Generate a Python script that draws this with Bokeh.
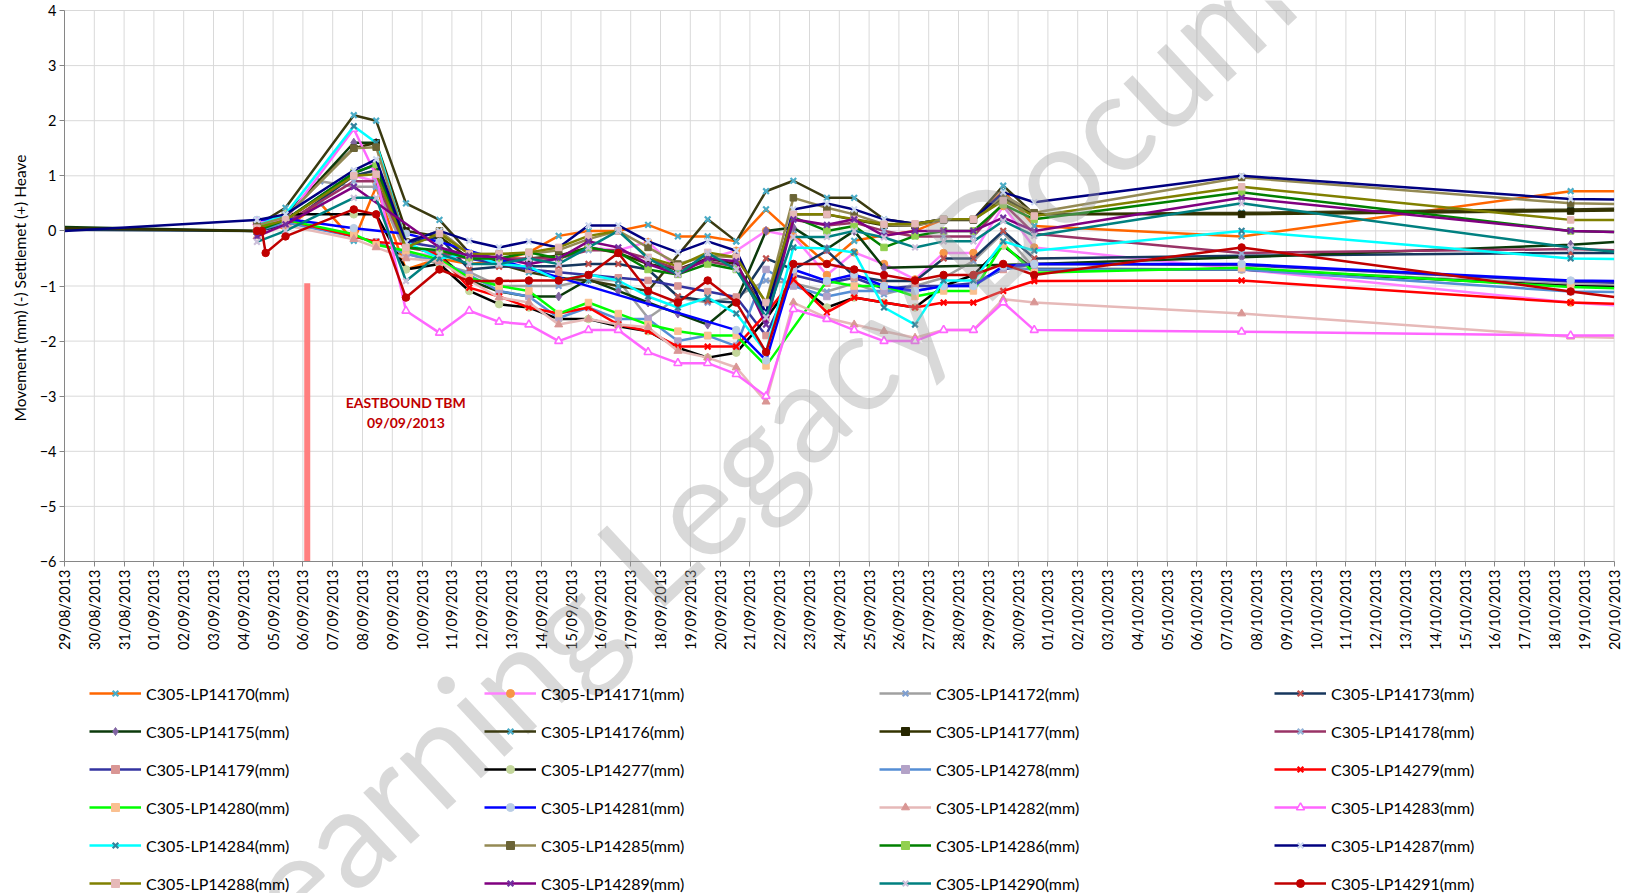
import pandas as pd
from math import pi
from bokeh.plotting import figure
from bokeh.models import (Range1d, FixedTicker, DatetimeTickFormatter, Legend,
                          LegendItem, Label)
from bokeh.core.properties import value
from bokeh.embed import file_html
from bokeh.resources import INLINE

FONT = "Lato"
N = None

# measurement times
times = ["2013-08-29 00:00", "2013-09-04 11:00", "2013-09-04 15:00", "2013-09-04 18:00",
         "2013-09-05 10:00", "2013-09-06 14:00", "2013-09-07 17:00", "2013-09-08 11:00",
         "2013-09-09 11:00", "2013-09-10 14:00", "2013-09-11 14:00", "2013-09-12 14:00",
         "2013-09-13 14:00", "2013-09-14 14:00", "2013-09-15 14:00", "2013-09-16 14:00",
         "2013-09-17 14:00", "2013-09-18 14:00", "2013-09-19 14:00", "2013-09-20 13:00",
         "2013-09-21 13:00", "2013-09-22 11:00", "2013-09-23 14:00", "2013-09-24 12:00",
         "2013-09-25 12:00", "2013-09-26 13:00", "2013-09-27 12:00", "2013-09-28 12:00",
         "2013-09-29 12:00", "2013-09-30 13:00", "2013-10-07 12:00", "2013-10-18 13:00",
         "2013-10-20 00:00"]

lp14170 = [N, 0.1, N, N, 0.05, 0.5, -0.18, 0.8, -0.7, -0.5, -0.6, -0.55, -0.39, -0.09, 0.0, 0.0, 0.11, -0.1, -0.1, -0.19, 0.39, -0.06, -0.6, -0.18, -0.08, 0.0, 0.21, 0.21, 0.73, 0.09, -0.1, 0.72, 0.72]
lp14171 = [N, 0.15, 0.1, N, 0.1, N, 1.0, 0.9, -0.4, -0.45, -0.5, -0.5, -0.6, -0.5, -0.3, -0.35, -0.2, -0.7, -0.5, -0.36, 0.0, -0.1, -0.8, -0.39, -0.6, -0.88, -0.4, -0.4, 0.45, -0.3, -0.7, -1.3, -1.35]
lp14172 = [N, 0.2, N, N, 0.25, 0.9, 0.8, 0.8, -0.4, -0.6, -0.75, -1.0, -1.0, -1.0, -0.88, -0.9, -1.58, -1.21, -1.3, -1.2, -0.9, -0.95, -1.1, -0.95, -1.15, -1.0, -0.85, -0.55, -0.03, -0.68, -0.7, -0.97, -0.99]
lp14173 = [0.02, 0.0, N, N, 0.1, N, 1.0, 1.1, -0.2, -0.12, -0.7, -0.65, -0.64, -0.64, -0.6, -0.6, -0.7, -1.19, -1.27, -1.3, -0.5, -0.7, -0.36, -0.82, -0.91, -0.91, -0.5, -0.5, 0.0, -0.5, -0.45, -0.4, -0.4]
lp14175 = [0.07, 0.0, N, N, 0.25, N, 1.6, 1.6, -0.25, -0.45, -0.9, -1.1, -1.19, -1.19, -0.88, -1.09, -1.3, -1.5, -1.7, -1.27, 0.0, 0.06, -0.33, 0.0, -0.67, N, N, N, N, -0.6, -0.48, -0.25, -0.2]
lp14176 = [N, 0.1, N, N, 0.42, N, 2.1, 2.0, 0.5, 0.2, -0.4, -0.6, -0.75, -0.85, -0.9, -1.0, -1.09, N, 0.21, -0.19, 0.72, 0.91, 0.6, 0.6, 0.21, 0.13, 0.21, 0.21, 0.82, 0.3, 0.33, 0.39, 0.4]
lp14177 = [0.05, 0.0, N, N, 0.3, N, 1.5, 1.6, 0.0, -0.1, -0.5, -0.55, -0.5, -0.45, -0.3, -0.4, -0.6, -0.7, -0.5, -0.6, -1.5, 0.3, 0.3, 0.2, 0.1, 0.1, 0.2, 0.2, 0.6, 0.3, 0.3, 0.36, 0.37]
lp14178 = [N, 0.05, N, N, 0.15, N, 0.9, 0.9, -0.3, -0.4, -0.5, -0.5, -0.5, -0.5, -0.35, -0.35, -0.5, -0.7, -0.55, -0.65, -1.5, 0.2, 0.1, 0.15, 0.0, -0.1, -0.1, -0.1, 0.5, -0.05, -0.4, -0.33, -0.35]
lp14179 = [N, 0.1, N, N, 0.2, N, 1.05, 1.2, -0.2, -0.3, -0.5, -0.6, -0.7, -0.75, -0.8, -0.85, -0.9, -1.0, -1.1, -1.2, -1.9, -0.8, -0.95, -0.85, -1.05, -1.0, -1.0, -0.95, -0.7, -0.6, -0.62, -0.92, -0.94]
lp14277 = [N, 0.0, N, N, 0.3, N, 0.3, 0.3, -0.7, -0.6, -1.09, -1.33, -1.39, -1.6, -1.6, -1.73, -1.82, -2.12, -2.3, -2.21, -1.6, -0.9, -1.39, -1.21, -1.3, -1.39, -1.0, -0.8, -0.27, -0.7, -0.7, -1.0, -1.02]
lp14278 = [N, 0.0, N, N, 0.15, N, -0.1, -0.2, -0.42, -0.55, -0.8, -1.09, -1.19, -1.58, -1.39, -1.6, -1.6, -2.0, -1.9, -2.09, -0.7, -1.0, -1.19, -1.09, -1.09, -1.09, -1.0, -1.0, -0.67, -0.7, -0.7, -1.1, -1.11]
lp14279 = [N, 0.05, N, N, 0.2, N, -0.1, -0.2, -0.24, -0.45, -1.03, -1.19, -1.39, -1.5, -1.39, -1.7, -1.82, -2.1, -2.1, -2.1, -1.5, -0.88, -1.48, -1.21, -1.3, -1.39, -1.3, -1.3, -1.09, -0.91, -0.9, -1.3, -1.32]
lp14280 = [N, 0.1, N, N, 0.2, N, -0.06, -0.25, -0.36, -0.52, -0.85, -1.0, -1.09, -1.5, -1.3, -1.5, -1.7, -1.82, -1.9, -1.9, -2.45, N, -0.91, -1.0, -1.0, -1.19, -1.09, -1.09, -0.24, -0.76, -0.67, -1.02, -1.04]
lp14281 = [N, 0.2, N, N, 0.22, N, 0.05, N, -0.05, -0.2, N, N, N, N, N, N, N, N, N, -1.8, -2.35, -0.7, -0.91, -0.79, -1.0, -1.09, -1.0, -1.0, -0.64, -0.6, -0.6, -0.9, -0.91]
lp14282 = [N, -0.1, N, N, 0.1, N, -0.15, -0.3, -0.5, -0.55, -0.9, -1.21, -1.3, -1.7, -1.6, -1.7, -1.75, -2.18, -2.3, -2.48, -3.1, -1.3, -1.58, -1.7, -1.82, -1.94, -1.8, -1.8, -1.24, -1.3, -1.5, -1.92, -1.94]
lp14283 = [N, 0.15, N, N, 0.2, N, 1.85, 1.0, -1.45, -1.85, -1.45, -1.65, -1.7, -2.0, -1.8, -1.8, -2.2, -2.4, -2.4, -2.6, -3.0, -1.42, -1.6, -1.8, -2.0, -2.0, -1.8, -1.8, -1.3, -1.8, -1.83, -1.9, -1.9]
lp14284 = [N, 0.1, N, N, 0.3, N, 1.9, 1.6, -0.2, -0.5, -0.42, -0.6, -0.65, -0.9, -0.79, -0.9, -1.19, -1.39, -1.21, -1.5, -2.2, -0.3, -0.32, -0.39, -1.39, -1.7, -0.9, -0.9, -0.19, -0.36, 0.0, -0.5, -0.51]
lp14285 = [N, 0.1, N, N, 0.25, N, 1.5, 1.52, -0.2, 0.0, -0.42, -0.42, -0.42, -0.35, -0.15, 0.0, -0.3, -0.6, -0.45, -0.48, -1.3, 0.6, 0.42, 0.3, 0.12, 0.09, 0.21, 0.21, 0.65, 0.33, 0.97, 0.5, 0.49]
lp14286 = [N, 0.0, N, N, 0.2, N, 1.05, 1.21, -0.3, -0.35, -0.5, -0.5, -0.39, -0.5, -0.3, -0.39, -0.7, -0.79, -0.6, -0.7, -1.5, 0.25, 0.0, 0.09, -0.3, -0.09, 0.0, 0.0, 0.48, 0.21, 0.7, 0.0, -0.02]
lp14287 = [0.0, 0.2, N, N, 0.3, N, 1.1, 1.3, -0.21, 0.0, -0.18, -0.3, -0.19, -0.3, 0.1, 0.1, -0.19, -0.39, -0.19, -0.36, -1.5, 0.39, 0.5, 0.39, 0.21, 0.13, 0.21, 0.21, 0.7, 0.52, 1.0, 0.58, 0.57]
lp14288 = [N, 0.05, N, N, 0.2, N, 1.0, 1.03, -0.3, -0.05, -0.42, -0.42, -0.39, -0.3, -0.09, 0.0, -0.48, -0.64, -0.39, -0.48, -1.3, 0.3, 0.3, 0.21, 0.12, 0.13, 0.21, 0.21, 0.55, 0.27, 0.8, 0.2, 0.2]
lp14289 = [N, -0.1, N, N, 0.12, N, 0.8, N, N, -0.3, -0.45, -0.48, -0.6, -0.5, -0.19, -0.3, -0.6, -0.79, -0.5, -0.55, -1.7, 0.21, 0.11, 0.21, -0.09, 0.0, 0.0, 0.0, 0.24, 0.0, 0.6, 0.0, -0.02]
lp14290 = [N, -0.2, N, N, 0.0, N, 0.6, 0.6, -0.91, -0.42, -0.6, -0.6, -0.5, -0.6, -0.3, 0.0, -0.5, -0.79, -0.4, -0.7, -1.57, -0.11, -0.11, 0.0, -0.12, -0.3, -0.19, -0.19, 0.18, -0.09, 0.5, -0.3, -0.38]
lp14291 = [N, 0.0, 0.0, -0.4, -0.1, N, 0.39, 0.3, -1.21, -0.7, -0.91, -0.91, -0.9, -0.9, -0.8, -0.4, -1.09, -1.3, -0.9, -1.3, -2.2, -0.6, -0.6, -0.7, -0.8, -0.9, -0.8, -0.8, -0.6, -0.8, -0.3, -1.1, -1.2]

# (label, values, line colour, marker, marker colour)
series = [
    ("C305-LP14170(mm)", lp14170, "#FF6600", "x", "#4BACC6"),
    ("C305-LP14171(mm)", lp14171, "#FF80FF", "circle", "#F79646"),
    ("C305-LP14172(mm)", lp14172, "#A0A0A0", "x", "#7F9FD0"),
    ("C305-LP14173(mm)", lp14173, "#17375E", "x", "#C0504D"),
    ("C305-LP14175(mm)", lp14175, "#0B3A0B", "diamond", "#8064A2"),
    ("C305-LP14176(mm)", lp14176, "#3A3A10", "x", "#4BACC6"),
    ("C305-LP14177(mm)", lp14177, "#333300", "square", "#262600"),
    ("C305-LP14178(mm)", lp14178, "#993366", "x", "#95B3D7"),
    ("C305-LP14179(mm)", lp14179, "#3333A0", "square", "#D99694"),
    ("C305-LP14277(mm)", lp14277, "#000000", "circle", "#C3D69B"),
    ("C305-LP14278(mm)", lp14278, "#558ED5", "square", "#B3A2C7"),
    ("C305-LP14279(mm)", lp14279, "#FF0000", "x", "#FF0000"),
    ("C305-LP14280(mm)", lp14280, "#00FF00", "square", "#FAC090"),
    ("C305-LP14281(mm)", lp14281, "#0000FF", "circle", "#B9CDE5"),
    ("C305-LP14282(mm)", lp14282, "#E6B9B8", "triangle", "#D99694"),
    ("C305-LP14283(mm)", lp14283, "#FF66FF", "triangle", "#FF66FF"),
    ("C305-LP14284(mm)", lp14284, "#00FFFF", "x", "#31859C"),
    ("C305-LP14285(mm)", lp14285, "#948A54", "square", "#6B6436"),
    ("C305-LP14286(mm)", lp14286, "#008000", "square", "#92D050"),
    ("C305-LP14287(mm)", lp14287, "#000080", "x", "#CCD8F0"),
    ("C305-LP14288(mm)", lp14288, "#808000", "square", "#E6B9B8"),
    ("C305-LP14289(mm)", lp14289, "#800080", "x", "#7030A0"),
    ("C305-LP14290(mm)", lp14290, "#008080", "x", "#CCC0DA"),
    ("C305-LP14291(mm)", lp14291, "#C00000", "circle", "#C00000"),
]

x_start, x_end = "2013-08-29", "2013-10-20"
y_ticks = [-6, -5, -4, -3, -2, -1, 0, 1, 2, 3, 4]
y_label = "Movement  (mm) (-) Settlemet (+) Heave"
tbm_time = "2013-09-06 03:30"
tbm_top = -0.95
note_time = "2013-09-09 11:00"
note_lines = ["EASTBOUND TBM", "09/09/2013"]
note_y = [-3.12, -3.48]
watermark = "Learning Legacy Document"
wm_time = "2013-09-03 01:40"
wm_y = -13.10

# ---- layout: the plot frame fills the whole canvas; axes are pinned inside it
FIG_W, FIG_H = 1623, 893
AX_LEFT_PX, AX_RIGHT_PX = 64.0, 1613.6      # screen x of first / last date
AX_TOP_PX, AX_BOTTOM_PX = 10.0, 561.0       # screen y of value 4 / -6
t0, t1 = pd.Timestamp(x_start), pd.Timestamp(x_end)
ndays = (t1 - t0).days
day_px = (AX_RIGHT_PX - AX_LEFT_PX) / ndays
unit_px = (AX_BOTTOM_PX - AX_TOP_PX) / (y_ticks[-1] - y_ticks[0])
xr0 = t0 - pd.Timedelta(days=AX_LEFT_PX / day_px)
xr1 = t1 + pd.Timedelta(days=(FIG_W - AX_RIGHT_PX) / day_px)
yr1 = y_ticks[-1] + AX_TOP_PX / unit_px
yr0 = y_ticks[0] - (FIG_H - AX_BOTTOM_PX) / unit_px

def ms(t):
    return pd.Timestamp(t).value / 1e6

p = figure(width=FIG_W, height=FIG_H, x_axis_type="datetime",
           x_range=Range1d(xr0, xr1), y_range=Range1d(yr0, yr1),
           output_backend="svg", toolbar_location=None,
           min_border_left=0, min_border_right=0, min_border_top=0, min_border_bottom=0)
p.outline_line_color = None
p.background_fill_color = "white"
p.border_fill_color = "white"
p.xgrid.visible = False
p.ygrid.visible = False

day_dates = pd.date_range(x_start, x_end, freq="D")
p.xaxis.ticker = FixedTicker(ticks=[ms(t) for t in day_dates])
fmt = "%d/%m/%Y"
p.xaxis.formatter = DatetimeTickFormatter(days=fmt, months=fmt, years=fmt, hours=fmt,
                                          hourmin=fmt, minutes=fmt, minsec=fmt,
                                          seconds=fmt, milliseconds=fmt, microseconds=fmt)
p.xaxis.major_label_orientation = pi / 2
p.xaxis.fixed_location = y_ticks[0]
p.xaxis.bounds = (ms(t0), ms(t1))
p.yaxis.ticker = FixedTicker(ticks=y_ticks)
p.yaxis.fixed_location = ms(t0)
p.yaxis.bounds = (y_ticks[0], y_ticks[-1])

for ax in (p.xaxis, p.yaxis):
    ax.axis_line_color = "#868686"
    ax.major_tick_line_color = "#868686"
    ax.minor_tick_line_color = None
    ax.major_tick_out = 5
    ax.major_tick_in = 0
    ax.major_label_text_font = FONT
    ax.major_label_text_font_size = "14.5px"
    ax.major_label_text_color = "#000000"
    ax.major_label_standoff = 3

# gridlines limited to the value / date span
p.segment(x0=list(day_dates), y0=[y_ticks[0]] * len(day_dates),
          x1=list(day_dates), y1=[y_ticks[-1]] * len(day_dates),
          line_color="#D9D9D9", line_width=1)
p.segment(x0=[t0] * len(y_ticks), y0=y_ticks, x1=[t1] * len(y_ticks), y1=y_ticks,
          line_color="#D9D9D9", line_width=1)

# TBM marker bar
tb = pd.Timestamp(tbm_time)
p.segment(x0=[tb], y0=[tbm_top], x1=[tb], y1=[y_ticks[0]],
          line_color="#FF7F7F", line_width=6)

xs = pd.to_datetime(times)
items = []
for name, vals, lc, mk, mc in series:
    xv = [t for t, v in zip(xs, vals) if v is not None]
    yv = [v for v in vals if v is not None]
    lr = p.line(xv, yv, line_color=lc, line_width=2.5)
    mx = [t for t, v in zip(xs[1:-1], vals[1:-1]) if v is not None]
    my = [v for v in vals[1:-1] if v is not None]
    if mk == "x":
        sr = p.scatter(mx, my, marker="x", size=8, line_color=mc, line_width=2.2)
    elif mk == "triangle" and mc == "#FF66FF":
        sr = p.scatter(mx, my, marker="triangle", size=8, line_color=mc,
                       fill_color="white", line_width=1.6)
    else:
        sz = {"square": 6.5, "circle": 7.5, "diamond": 9, "triangle": 8}[mk]
        sr = p.scatter(mx, my, marker=mk, size=sz, line_color=mc, fill_color=mc)
    items.append(LegendItem(label=name, renderers=[lr, sr]))

p.text(x=[pd.Timestamp(note_time)] * 2, y=note_y, text=note_lines,
       text_font=value(FONT), text_font_style="bold", text_font_size="14px",
       text_color="#C00000", text_align="center", text_baseline="middle")

# value-axis title, centred on the -6..4 span
ylab_x = t0 - pd.Timedelta(days=(AX_LEFT_PX - 19) / day_px)
p.add_layout(Label(x=ms(ylab_x), y=(y_ticks[0] + y_ticks[-1]) / 2, text=y_label,
                   angle=90, angle_units="deg", text_font=FONT, text_font_size="15.5px",
                   text_color="#000000", text_align="center", text_baseline="middle"))

legend = Legend(items=items, location=(89, 0), orientation="horizontal", ncols=4,
                glyph_width=52, glyph_height=20, label_height=20, label_width=320,
                label_standoff=5, spacing=18, padding=0, margin=0,
                border_line_color=None, background_fill_alpha=0,
                label_text_font=FONT, label_text_font_size="16px",
                label_text_color="#000000")
p.add_layout(legend, "center")

wm = Label(x=ms(wm_time), y=wm_y, text=watermark,
           angle=43, angle_units="deg", text_font=FONT, text_font_size="138px",
           text_color="#A0A0A0", text_alpha=0.4, text_align="left",
           text_baseline="middle")
p.add_layout(wm)

open("out.html", "w").write(file_html(p, INLINE))
